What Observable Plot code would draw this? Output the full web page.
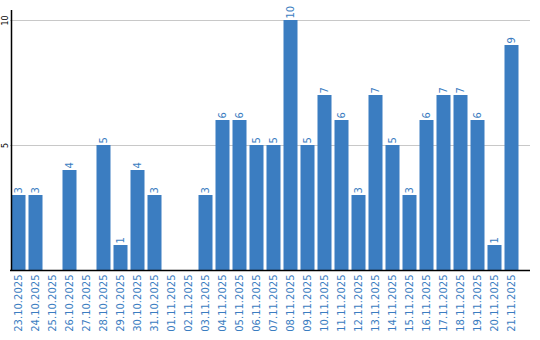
<!DOCTYPE html>
<html><head><meta charset="utf-8">
<script src="https://cdn.jsdelivr.net/npm/d3@7"></script>
<script src="https://cdn.jsdelivr.net/npm/@observablehq/plot@0.6"></script>
<style>body{margin:0;background:#fff}</style>
</head><body><div id="chart"></div>
<script>
const dates = ["23.10.2025","24.10.2025","25.10.2025","26.10.2025","27.10.2025","28.10.2025","29.10.2025","30.10.2025","31.10.2025","01.11.2025","02.11.2025","03.11.2025","04.11.2025","05.11.2025","06.11.2025","07.11.2025","08.11.2025","09.11.2025","10.11.2025","11.11.2025","12.11.2025","13.11.2025","14.11.2025","15.11.2025","16.11.2025","17.11.2025","18.11.2025","19.11.2025","20.11.2025","21.11.2025"];
const counts = [3,3,0,4,0,5,1,4,3,0,0,3,6,6,5,5,10,5,7,6,3,7,5,3,6,7,7,6,1,9];
const yTicks = [5, 10];

const data = dates.map((d, i) => ({date: d, value: counts[i]}));
const blue = "#3b7dc1";

const chart = Plot.plot({
  width: 540, height: 340,
  marginLeft: 10, marginRight: 10, marginTop: 10, marginBottom: 70,
  style: {fontFamily: "DejaVu Sans", fontSize: "10px", background: "#fff"},
  x: {domain: dates, range: [9.5, 519.5], padding: 0, label: null},
  y: {domain: [0, 10.4], label: null},
  marks: [
    Plot.gridY(yTicks, {stroke: "#c8c8c8", strokeOpacity: 1}),
    Plot.barY(data, {x: "date", y: "value", fill: blue, insetLeft: 1.5, insetRight: 1.5}),
    Plot.text(data.filter(d => d.value > 0), {x: "date", y: "value", text: d => String(d.value), rotate: -90, textAnchor: "start", dy: -2, fill: blue, fontSize: 10}),
    Plot.axisX({tickRotate: -90, tickSize: 0, tickPadding: 4, fill: blue, fontSize: 10, label: null}),
    Plot.axisY({ticks: yTicks, tickSize: 0, tickRotate: -90, tickPadding: 3, fontSize: 8, fill: "#000", label: null}),
    Plot.ruleY([0], {stroke: "#000", strokeWidth: 1.5}),
    Plot.ruleX([dates[0]], {x: d => d, y1: 0, y2: 10.4, dx: -7.5, stroke: "#000", strokeWidth: 1.5})
  ]
});
document.getElementById("chart").appendChild(chart);
</script></body></html>
